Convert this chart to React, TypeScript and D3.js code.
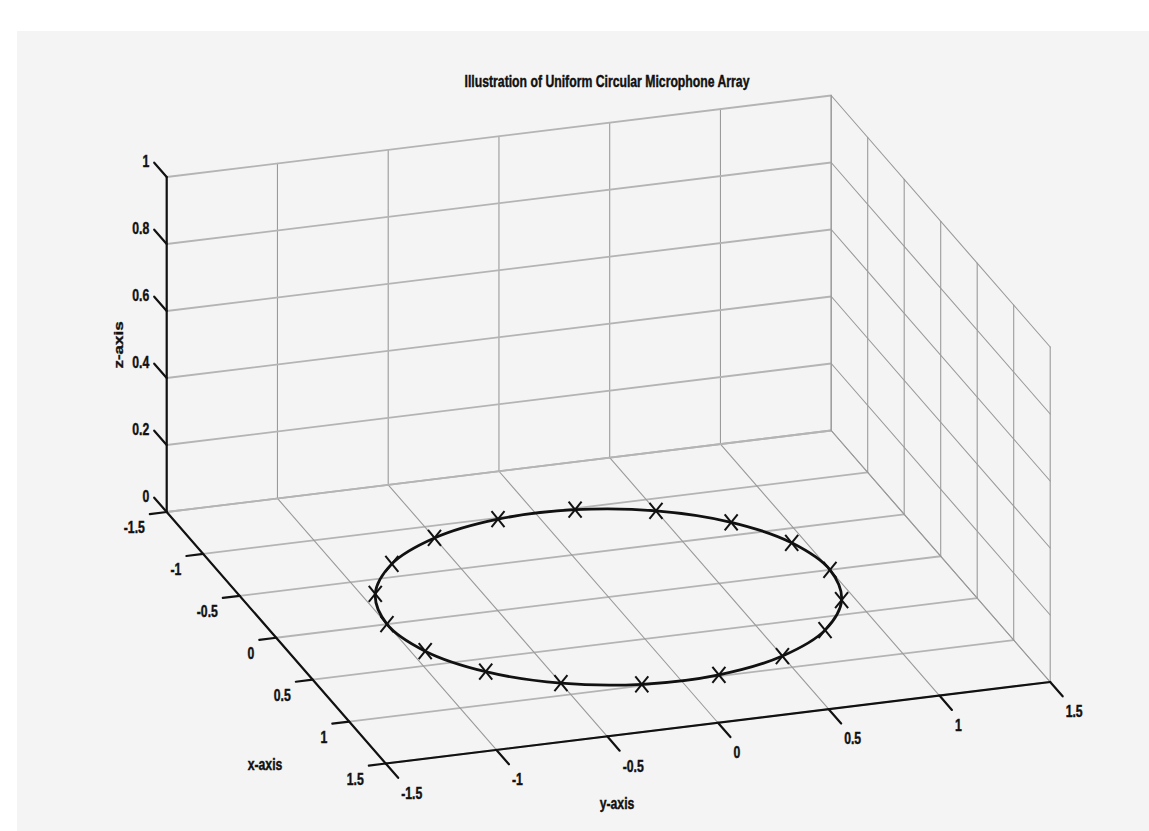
import React from "react";
import * as d3 from "d3";

// tick values / labels
const xTicks = [-1.5, -1, -0.5, 0, 0.5, 1, 1.5];
const yTicks = [-1.5, -1, -0.5, 0, 0.5, 1, 1.5];
const zTicks = [0, 0.2, 0.4, 0.6, 0.8, 1];
const xTickLabels = ["-1.5", "-1", "-0.5", "0", "0.5", "1", "1.5"];
const yTickLabels = ["-1.5", "-1", "-0.5", "0", "0.5", "1", "1.5"];
const zTickLabels = ["0", "0.2", "0.4", "0.6", "0.8", "1"];

// microphone positions (18 mics on unit circle, z = 0)
const micX = [0.985, 0.866, 0.643, 0.342, 0, -0.342, -0.643, -0.866, -0.985, -0.985, -0.866, -0.643, -0.342, 0, 0.342, 0.643, 0.866, 0.985];
const micY = [0.174, 0.5, 0.766, 0.94, 1, 0.94, 0.766, 0.5, 0.174, -0.174, -0.5, -0.766, -0.94, -1, -0.94, -0.766, -0.5, -0.174];

const W = 1149;
const H = 831;
const FONT = "'Liberation Sans', Arial, Helvetica, sans-serif";
const SQUEEZE = 0.72; // picture is squashed horizontally

// view: floor corner (x=-1.5,y=-1.5,z=0) and box edge vectors in px
const corner = [166.7, 512];
const xEdge = [219, 251.5];
const yEdge = [664.5, -81.5];
const zEdge = [0, -335];

const sx = d3.scaleLinear().domain([-1.5, 1.5]).range([0, 1]);
const sy = d3.scaleLinear().domain([-1.5, 1.5]).range([0, 1]);
const sz = d3.scaleLinear().domain([0, 1]).range([0, 1]);

function project(x: number, y: number, z: number): [number, number] {
    const a = sx(x), b = sy(y), c = sz(z);
    return [
        corner[0] + a * xEdge[0] + b * yEdge[0] + c * zEdge[0],
        corner[1] + a * xEdge[1] + b * yEdge[1] + c * zEdge[1]
    ];
}

function unit(v: number[], len: number) {
    const n = Math.hypot(v[0], v[1]);
    return [v[0] / n * len, v[1] / n * len];
}

const xTickDir = unit([-yEdge[0], -yEdge[1]], 17);
const yTickDir = unit(xEdge, 19);
const zTickDir = unit([-xEdge[0], -xEdge[1]], 19);

function Seg({ p, q, stroke, width }: any) {
    return <line x1={p[0]} y1={p[1]} x2={q[0]} y2={q[1]} stroke={stroke} strokeWidth={width} strokeLinecap="round" />;
}

function Label({ x, y, anchor, text }: any) {
    return (
        <text transform={`translate(${x},${y}) scale(${SQUEEZE},1)`} textAnchor={anchor}
            fontFamily={FONT} fontWeight="bold" fontSize={17} fill="#111"
            stroke="#111" strokeWidth={0.45}>{text}</text>
    );
}

export default function App() {
    const gridDark = "#9a9a9a";
    const gridLight = "#b4b4b4";

    const grid: any[] = [];
    // floor
    xTicks.forEach((x, i) => grid.push(<Seg key={"fx" + i} p={project(x, -1.5, 0)} q={project(x, 1.5, 0)} stroke={gridLight} width={1.8} />));
    yTicks.forEach((y, i) => grid.push(<Seg key={"fy" + i} p={project(-1.5, y, 0)} q={project(1.5, y, 0)} stroke={gridDark} width={1.1} />));
    // back wall x = -1.5
    yTicks.forEach((y, i) => grid.push(<Seg key={"by" + i} p={project(-1.5, y, 0)} q={project(-1.5, y, 1)} stroke={gridDark} width={1.1} />));
    zTicks.forEach((z, i) => grid.push(<Seg key={"bz" + i} p={project(-1.5, -1.5, z)} q={project(-1.5, 1.5, z)} stroke={gridLight} width={1.8} />));
    // side wall y = 1.5
    xTicks.forEach((x, i) => grid.push(<Seg key={"sx" + i} p={project(x, 1.5, 0)} q={project(x, 1.5, 1)} stroke={gridDark} width={1.1} />));
    zTicks.forEach((z, i) => grid.push(<Seg key={"sz" + i} p={project(-1.5, 1.5, z)} q={project(1.5, 1.5, z)} stroke={gridDark} width={1.1} />));

    const axisColor = "#111";
    const axisW = 2.2;

    const mics = micX.map((x, i) => project(x, micY[i], 0));
    const ring = d3.line().curve(d3.curveCatmullRomClosed)(mics as [number, number][]) || "";

    return (
        <svg width={W} height={H} style={{ position: "absolute", left: 0, top: 0 }}>
            <rect x={0} y={0} width={W} height={H} fill="#ffffff" />
            <rect x={17} y={31} width={W - 17} height={H - 31} fill="#f4f4f4" />

            <g>{grid}</g>

            {/* axes */}
            <Seg p={project(-1.5, -1.5, 0)} q={project(-1.5, -1.5, 1)} stroke={axisColor} width={axisW} />
            <Seg p={project(-1.5, -1.5, 0)} q={project(1.5, -1.5, 0)} stroke={axisColor} width={axisW} />
            <Seg p={project(1.5, -1.5, 0)} q={project(1.5, 1.5, 0)} stroke={axisColor} width={axisW} />

            {zTicks.map((z, i) => {
                const p = project(-1.5, -1.5, z);
                const e = [p[0] + zTickDir[0], p[1] + zTickDir[1]];
                return (
                    <g key={"zt" + i}>
                        <Seg p={p} q={e} stroke={axisColor} width={axisW} />
                        <Label x={e[0] - 5} y={e[1] + 4} anchor="end" text={zTickLabels[i]} />
                    </g>
                );
            })}
            {xTicks.map((x, i) => {
                const p = project(x, -1.5, 0);
                const e = [p[0] + xTickDir[0], p[1] + xTickDir[1]];
                return (
                    <g key={"xt" + i}>
                        <Seg p={p} q={e} stroke={axisColor} width={axisW} />
                        <Label x={e[0] - 5} y={e[1] + 19} anchor="end" text={xTickLabels[i]} />
                    </g>
                );
            })}
            {yTicks.map((y, i) => {
                const p = project(1.5, y, 0);
                const e = [p[0] + yTickDir[0], p[1] + yTickDir[1]];
                return (
                    <g key={"yt" + i}>
                        <Seg p={p} q={e} stroke={axisColor} width={axisW} />
                        <Label x={e[0] + 3} y={e[1] + 21} anchor="start" text={yTickLabels[i]} />
                    </g>
                );
            })}

            {/* microphone ring */}
            <path d={ring} fill="none" stroke="#111" strokeWidth={2.8} />
            {mics.map((m, i) => (
                <g key={"m" + i} stroke="#111" strokeWidth={2}>
                    <line x1={m[0] - 6.5} y1={m[1] - 8} x2={m[0] + 6.5} y2={m[1] + 8} />
                    <line x1={m[0] - 6.5} y1={m[1] + 8} x2={m[0] + 6.5} y2={m[1] - 8} />
                </g>
            ))}

            {/* titles */}
            <Label x={607} y={87} anchor="middle" text="Illustration of Uniform Circular Microphone Array" />
            <Label x={265} y={770} anchor="middle" text="x-axis" />
            <Label x={617} y={809} anchor="middle" text="y-axis" />
            <text transform={`translate(123,345) rotate(-90) scale(1,${SQUEEZE})`} textAnchor="middle"
                fontFamily={FONT} fontWeight="bold" fontSize={17} fill="#111"
                stroke="#111" strokeWidth={0.45}>z-axis</text>
        </svg>
    );
}
